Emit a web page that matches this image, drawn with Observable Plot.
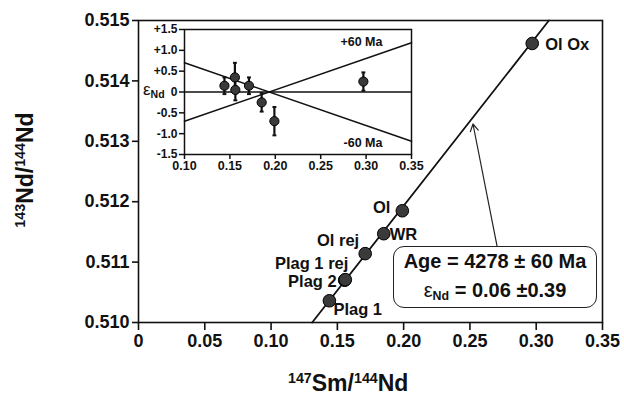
<!DOCTYPE html>
<html>
<head>
<meta charset="utf-8">
<script src="https://cdn.jsdelivr.net/npm/d3@7"></script>
<script src="https://cdn.jsdelivr.net/npm/@observablehq/plot@0.6"></script>
<style>
  html, body { margin: 0; padding: 0; background: #fff; }
  #wrap { position: relative; width: 624px; height: 400px; font-family: "Liberation Sans", Arial, sans-serif; font-weight: bold; color: #111; }
  #wrap svg { position: absolute; }
  .box { position: absolute; left: 393px; top: 246px; width: 202px; height: 60px; border: 1.5px solid #222; border-radius: 11px; background: #fff; text-align: center; font-size: 20px; line-height: 29px; }
  .lbl { position: absolute; white-space: nowrap; }
  sub { font-size: 62%; vertical-align: -0.25em; line-height: 0; }
  sup { font-size: 62%; vertical-align: 0.55em; line-height: 0; }
</style>
</head>
<body>
<div id="wrap"></div>
<script>
// ---- data ----
const xTicks = [0, 0.05, 0.10, 0.15, 0.20, 0.25, 0.30, 0.35];
const xTickLabels = ["0", "0.05", "0.10", "0.15", "0.20", "0.25", "0.30", "0.35"];
const yTicks = [0.510, 0.511, 0.512, 0.513, 0.514, 0.515];
const yTickLabels = ["0.510", "0.511", "0.512", "0.513", "0.514", "0.515"];

const samples = ["Plag 1", "Plag 2", "Plag 1 rej", "Ol rej", "WR", "Ol", "Ol Ox"];
const smNd = [0.144, 0.1555, 0.156, 0.171, 0.185, 0.199, 0.297];
const ndNd = [0.51036, 0.51070, 0.51071, 0.51114, 0.51147, 0.51185, 0.51462];
const epsNd = [0.15, 0.35, 0.05, 0.15, -0.25, -0.70, 0.25];
const epsErr = [0.20, 0.35, 0.25, 0.20, 0.22, 0.34, 0.22];

const isoSlope = 0.0280;
const isoIntercept = 0.506332;

const insetXTicks = [0.10, 0.15, 0.20, 0.25, 0.30, 0.35];
const insetXTickLabels = ["0.10", "0.15", "0.20", "0.25", "0.30", "0.35"];
const insetYTicks = [-1.5, -1.0, -0.5, 0, 0.5, 1.0, 1.5];
const insetYTickLabels = ["-1.5", "-1.0", "-0.5", "0", "+0.5", "+1.0", "+1.5"];
const refLineNames = ["+60 Ma", "-60 Ma"];
const refLineX = [0.10, 0.35];
const refLinePlus = [-0.70, 1.18];
const refLineMinus = [0.70, -1.18];

const ageText = "Age = 4278 ± 60 Ma";
const epsValue = "= 0.06 ±0.39";

// ---- label layout (styling only) ----
const labelLayout = {
  "Plag 1": {anchor: "start", dx: 4, dy: 9},
  "Plag 2": {anchor: "end", dx: -8, dy: 1},
  "Plag 1 rej": {anchor: "end", dx: 3, dy: -16},
  "Ol rej": {anchor: "end", dx: -6, dy: -13},
  "WR": {anchor: "start", dx: 6, dy: 1},
  "Ol": {anchor: "end", dx: -12, dy: -3},
  "Ol Ox": {anchor: "start", dx: 13, dy: 1}
};

const pts = samples.map((s, i) => ({name: s, x: smNd[i], y: ndNd[i], eps: epsNd[i], err: epsErr[i], ...labelLayout[s]}));
const isoX = [(0.510 - isoIntercept) / isoSlope, (0.515 - isoIntercept) / isoSlope];
const iso = isoX.map(x => ({x, y: isoIntercept + isoSlope * x}));
const arrowTipX = 0.2523;
const arrowBaseX = 0.2705;
const arrowData = [{x1: arrowBaseX, y1: 0.51126, x2: arrowTipX, y2: isoIntercept + isoSlope * arrowTipX - 0.00011}];

const font = {fontFamily: "'Liberation Sans', Arial, sans-serif", fontWeight: "bold", background: "transparent", color: "#111"};

const main = Plot.plot({
  width: 624, height: 400,
  marginLeft: 138, marginRight: 22, marginTop: 20, marginBottom: 78,
  x: {domain: [0, 0.35]},
  y: {domain: [0.510, 0.515]},
  style: {...font, fontSize: "18px"},
  marks: [
    Plot.frame({stroke: "#111", strokeWidth: 1.6}),
    Plot.axisX({ticks: xTicks, tickFormat: (d, i) => xTickLabels[i], tickSize: 8, tickPadding: 4, label: null, strokeWidth: 1.6, fontSize: 18}),
    Plot.axisY({ticks: yTicks, tickFormat: (d, i) => yTickLabels[i], tickSize: 6, tickPadding: 3, label: null, strokeWidth: 1.6, fontSize: 18}),
    Plot.line(iso, {x: "x", y: "y", stroke: "#111", strokeWidth: 1.8}),
    Plot.arrow(arrowData, {x1: "x1", y1: "y1", x2: "x2", y2: "y2", stroke: "#222", strokeWidth: 1.2, headLength: 10}),
    Plot.dot(pts, {x: "x", y: "y", r: 6.3, fill: "#3a3a3a", stroke: "#000", strokeWidth: 1}),
    ...pts.map(p => Plot.text([p], {x: "x", y: "y", text: "name", textAnchor: p.anchor, dx: p.dx, dy: p.dy, fontSize: 16.5, fill: "#111"}))
  ]
});
main.style.left = "0px"; main.style.top = "0px";
document.getElementById("wrap").appendChild(main);

const errCap = {draw(ctx, size) { const w = Math.sqrt(size) / 2; ctx.moveTo(-w, 0); ctx.lineTo(w, 0); }};
const insetPts = pts.flatMap(p => [{x: p.x, y: p.eps + p.err}, {x: p.x, y: p.eps - p.err}]);
const refData = refLineNames.flatMap((n, k) => refLineX.map((x, j) => ({name: n, x, y: (k === 0 ? refLinePlus : refLineMinus)[j]})));

const inset = Plot.plot({
  width: 285, height: 157,
  marginLeft: 43, marginRight: 15, marginTop: 10, marginBottom: 22,
  x: {domain: [0.10, 0.35]},
  y: {domain: [-1.5, 1.5]},
  style: {...font, fontSize: "12.5px"},
  marks: [
    Plot.frame({stroke: "#111", strokeWidth: 1.5}),
    Plot.axisX({ticks: insetXTicks, tickFormat: (d, i) => insetXTickLabels[i], tickSize: 5, tickPadding: 2, label: null, strokeWidth: 1.5, fontSize: 12.5}),
    Plot.axisY({ticks: insetYTicks, tickFormat: (d, i) => insetYTickLabels[i], tickSize: 5, tickPadding: 2, label: null, strokeWidth: 1.5, fontSize: 12}),
    Plot.ruleY([0], {stroke: "#111", strokeWidth: 1.4}),
    Plot.line(refData, {x: "x", y: "y", z: "name", stroke: "#111", strokeWidth: 1.5}),
    Plot.text([refLineNames[0]], {x: 0.318, y: 1.2, text: d => d, textAnchor: "end", fontSize: 12.5, fill: "#111"}),
    Plot.text([refLineNames[1]], {x: 0.318, y: -1.22, text: d => d, textAnchor: "end", fontSize: 12.5, fill: "#111"}),
    Plot.ruleX(pts, {x: "x", y1: d => d.eps - d.err, y2: d => d.eps + d.err, stroke: "#111", strokeWidth: 2.2}),
    Plot.dot(insetPts, {x: "x", y: "y", symbol: errCap, r: 2.2, stroke: "#111", strokeWidth: 2, fill: "none"}),
    Plot.dot(pts, {x: "x", y: "eps", r: 4.6, fill: "#3a3a3a", stroke: "#000", strokeWidth: 1})
  ]
});
inset.style.left = "141px"; inset.style.top = "19px";
document.getElementById("wrap").appendChild(inset);

// axis titles, inset y title and the annotation box (HTML text)
const wrap = d3.select("#wrap");
wrap.append("div").attr("class", "lbl")
  .style("left", "143px").style("top", "80px").style("font-size", "17px").style("font-weight", "normal")
  .html("&epsilon;<sub style='font-weight:bold'>Nd</sub>");
wrap.append("div").attr("class", "lbl")
  .style("left", "288px").style("top", "370px").style("font-size", "23px")
  .html("<sup>147</sup>Sm/<sup>144</sup>Nd");
wrap.append("div").attr("class", "lbl")
  .style("left", "25px").style("top", "170px").style("font-size", "23px")
  .style("transform", "translate(-50%,-50%) rotate(-90deg)")
  .html("<sup>143</sup>Nd/<sup>144</sup>Nd");
wrap.append("div").attr("class", "box")
  .html(`<div>${ageText}</div><div><span style="font-weight:normal">&epsilon;</span><sub>Nd</sub> ${epsValue}</div>`);
</script>
</body>
</html>
